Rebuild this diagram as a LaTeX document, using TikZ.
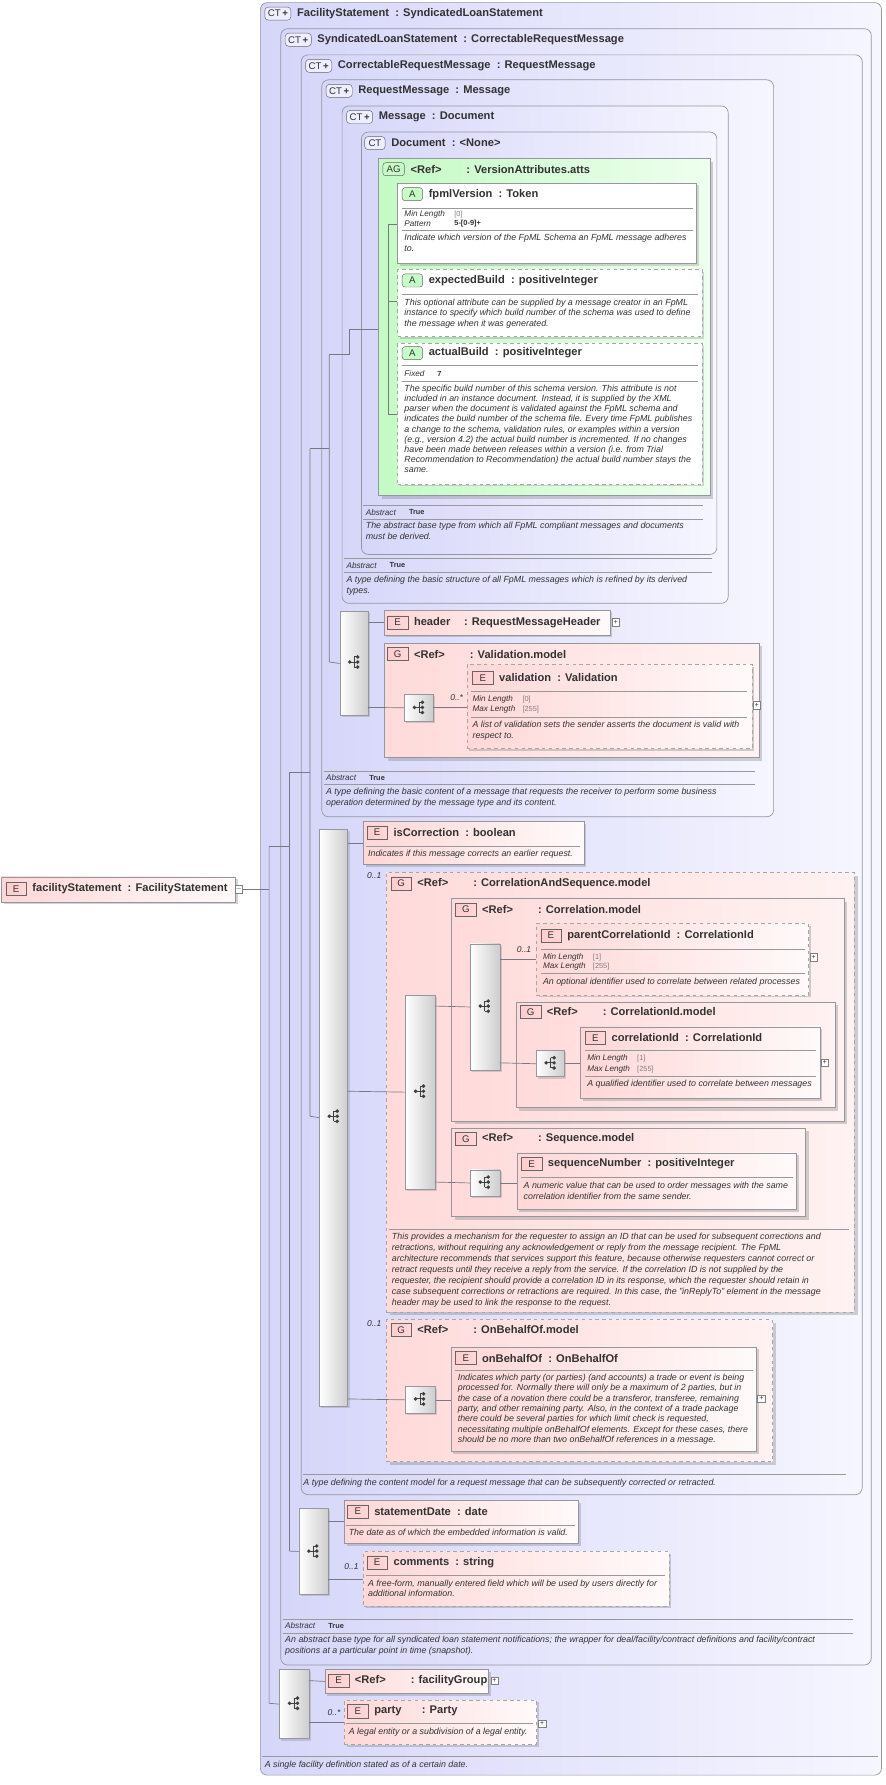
\documentclass[tikz,border=0pt]{standalone}
\usepackage{fontspec}
\setmainfont{Liberation Sans}
\usetikzlibrary{shadows}
\definecolor{txt}{RGB}{50,50,50}
\definecolor{bord}{RGB}{150,150,160}
\definecolor{ctL}{RGB}{214,214,250}
\definecolor{ctR}{RGB}{246,246,255}
\definecolor{eL}{RGB}{255,215,215}
\definecolor{eR}{RGB}{255,250,250}
\definecolor{gL}{RGB}{255,218,218}
\definecolor{gR}{RGB}{255,242,242}
\definecolor{agL}{RGB}{196,250,196}
\definecolor{agR}{RGB}{238,255,238}
\definecolor{seqR}{RGB}{205,205,205}
\definecolor{lin}{RGB}{120,120,130}
\tikzset{
 x=1pt,y=-1pt,
 every node/.style={text=txt},
 bx/.style={draw=bord, anchor=north west, inner sep=0pt, line width=0.6pt},
 ctbox/.style={bx, rounded corners=6pt, left color=ctL, right color=ctR},
 elbox/.style={bx, left color=eL, right color=eR, drop shadow={shadow xshift=2pt,shadow yshift=-2pt,opacity=0.35}},
 optel/.style={elbox, dashed, draw=gray!70},
 grpbox/.style={bx, left color=gL, right color=gR, drop shadow={shadow xshift=3pt,shadow yshift=-3pt,opacity=0.35}},
 optgrp/.style={grpbox, dashed, draw=gray!70},
 agbox/.style={bx, left color=agL, right color=agR, drop shadow={shadow xshift=3pt,shadow yshift=-3pt,opacity=0.35}},
 attbox/.style={bx, left color=white, right color=white, drop shadow={shadow xshift=2pt,shadow yshift=-2pt,opacity=0.3}},
 optatt/.style={attbox, dashed, draw=gray!70},
 seqbox/.style={bx, left color=white, right color=seqR, drop shadow={shadow xshift=1.5pt,shadow yshift=-1.5pt,opacity=0.3}},
 badge/.style={draw=gray!80!black, inner sep=0pt, minimum height=11.5pt, minimum width=18pt, font=\fontsize{8.5}{9}\selectfont, anchor=west},
 bCT/.style={badge, fill=ctL!80!blue!20, rounded corners=3pt, minimum width=23pt},
 bE/.style={badge, left color=eL!60!red!40, right color=eL},
 bA/.style={badge, left color=agL!60!green!40, right color=agL, rounded corners=2.5pt},
 hfont/.style={font=\bfseries\fontsize{9.8}{11}\selectfont},
 sep/.style={draw=gray!80, line width=0.5pt},
 con/.style={draw=lin, line width=0.6pt},
 dsc/.style={anchor=north west, align=left, inner sep=0pt, font=\itshape\fontsize{7.8}{9.4}\selectfont},
 pk/.style={anchor=west, inner sep=0pt, font=\itshape\fontsize{7.2}{8}\selectfont},
 pv/.style={anchor=west, inner sep=0pt, font=\fontsize{6.5}{7}\selectfont},
 pb/.style={anchor=west, inner sep=0pt, font=\bfseries\fontsize{6.5}{7}\selectfont},
 occ/.style={anchor=east, inner sep=0pt, font=\itshape\fontsize{7.5}{8}\selectfont},
 plus/.style={draw=gray, fill=white, minimum size=6.5pt, inner sep=0pt, font=\fontsize{6}{6}\selectfont, anchor=west},
}
\newcommand\bx[6]{\node[#2, minimum width={#5pt-#3pt}, minimum height={#6pt-#4pt}] (#1) at (#3,#4) {};}
\newcommand\hd[5]{\node[#3] (b#1#2) at (#1,#2) {#4}; \node[hfont, anchor=west, inner sep=0pt] (t#1#2) at ([xshift=5pt]b#1#2.east) {#5};}
\newcommand\sepl[3]{\draw[sep] (#1,#3) -- (#2,#3);}
\newcommand\prop[4]{\node[pk] at (#1,#2) {#3}; \node[pv] at (#1+44,#2) {#4};}
\newcommand\seqicon[1]{\begin{scope}[shift={(#1)}]
 \fill[black!75] (-4,0) circle (1.7); \draw[black!75,line width=0.8pt] (-4,0) -- (0,0) (0,-4.5) -- (0,4.5) (0,-4.5)--(3,-4.5) (0,0)--(3,0) (0,4.5)--(3,4.5);
 \fill[black!75] (3,-4.5) circle (1.7) (3,0) circle (1.7) (3,4.5) circle (1.7);\end{scope}}
\newcommand\ctp{CT\,\textbf{+}}
\begin{document}
\begin{tikzpicture}
\useasboundingbox (0,0) rectangle (780,1572);
% complex type boxes
\bx{ct1}{ctbox}{229}{2}{776}{1563}
\hd{233}{12}{bCT}{\ctp}{FacilityStatement\ \ : SyndicatedLoanStatement}
\bx{ct2}{ctbox}{247}{25}{767}{1466}
\hd{251}{35}{bCT}{\ctp}{SyndicatedLoanStatement\ \ : CorrectableRequestMessage}
\bx{ct3}{ctbox}{265}{48}{759}{1316}
\hd{269}{58}{bCT}{\ctp}{CorrectableRequestMessage\ \ : RequestMessage}
\bx{ct4}{ctbox}{283}{70}{681}{719}
\hd{287}{80}{bCT}{\ctp}{RequestMessage\ \ : Message}
\bx{ct5}{ctbox}{301}{93}{641}{531}
\hd{305}{103}{bCT}{\ctp}{Message\ \ : Document}
\bx{ct6}{ctbox}{318}{116}{631}{488}
\hd{321}{126}{badge,fill=ctL!80!blue!20,rounded corners=3pt,minimum width=18pt}{CT}{Document\ \ : <None>}
% attribute group
\bx{ag}{agbox}{333}{139}{625}{436}
\hd{337}{149}{bA,minimum width=19pt}{AG}{<Ref>\hspace{22pt}: VersionAttributes.atts}
\bx{a1}{attbox}{350}{161}{613}{232}
\hd{354}{171}{bA}{A}{fpmlVersion\ \ : Token}
\sepl{354}{610}{183}
\prop{356}{189}{Min Length}{\textcolor{gray}{[0]}}
\node[pk] at (356,197) {Pattern}; \node[pb] at (400,197) {5-[0-9]+};
\sepl{354}{610}{203}
\node[dsc] at (356,206) {Indicate which version of the FpML Schema an FpML message adheres\\to.};
\bx{a2}{optatt}{350}{237}{618}{296}
\hd{354}{247}{bA}{A}{expectedBuild\ \ : positiveInteger}
\sepl{354}{615}{259}
\node[dsc] at (356,263) {This optional attribute can be supplied by a message creator in an FpML\\instance to specify which build number of the schema was used to define\\the message when it was generated.};
\bx{a3}{optatt}{350}{302}{618}{426}
\hd{354}{311}{bA}{A}{actualBuild\ \ : positiveInteger}
\sepl{354}{615}{322}
\node[pk] at (356,329) {Fixed}; \node[pb] at (385,329) {7};
\sepl{354}{615}{336}
\node[dsc,font=\itshape\fontsize{7.8}{8.9}\selectfont] at (356,339) {The specific build number of this schema version. This attribute is not\\included in an instance document. Instead, it is supplied by the XML\\parser when the document is validated against the FpML schema and\\indicates the build number of the schema file. Every time FpML publishes\\a change to the schema, validation rules, or examples within a version\\(e.g., version 4.2) the actual build number is incremented. If no changes\\have been made between releases within a version (i.e. from Trial\\Recommendation to Recommendation) the actual build number stays the\\same.};
% Document footer
\sepl{320}{619}{445}
\node[pk] at (322,451) {Abstract}; \node[pb] at (360,451) {True};
\sepl{320}{619}{457}
\node[dsc] at (322,460) {The abstract base type from which all FpML compliant messages and documents\\must be derived.};
% Message footer
\sepl{303}{627}{492}
\node[pk] at (305,498) {Abstract}; \node[pb] at (343,498) {True};
\sepl{303}{627}{504}
\node[dsc] at (305,507) {A type defining the basic structure of all FpML messages which is refined by its derived\\types.};
% RequestMessage content
\bx{sq1}{seqbox}{299}{538}{324}{630}
\seqicon{312,583}
\bx{hdr}{elbox}{338}{537}{537}{559}
\hd{341}{548}{bE}{E}{header\hspace{12pt}: RequestMessageHeader}
\node[plus] (p1) at (539,548) {+};
\bx{gv}{grpbox}{338}{566}{668}{667}
\hd{341}{576}{bE}{G}{<Ref>\hspace{22pt}: Validation.model}
\bx{sq2}{seqbox}{356}{611}{381}{635}
\seqicon{369,623}
\bx{val}{optel}{411}{585}{662}{659}
\hd{416}{597}{bE}{E}{validation\ \ : Validation}
\sepl{415}{658}{609}
\prop{416}{616}{Min Length}{\textcolor{gray}{[0]}}
\prop{416}{625}{Max Length}{\textcolor{gray}{[255]}}
\sepl{415}{658}{632}
\node[dsc] at (416,635) {A list of validation sets the sender asserts the document is valid with\\respect to.};
\node[plus] (p2) at (663,621) {+};
\node[occ] at (408,614) {0..*};
\draw[con] (sq1.east |- hdr.west) -- (hdr.west);
\draw[con] (324,623) -- (sq2.west);
\draw[con] (sq2.east) -- (val.west |- sq2.east);
% RequestMessage footer
\sepl{285}{665}{679}
\node[pk] at (287,685) {Abstract}; \node[pb] at (325,685) {True};
\sepl{285}{665}{691}
\node[dsc] at (287,694) {A type defining the basic content of a message that requests the receiver to perform some business\\operation determined by the message type and its content.};
% CorrectableRequestMessage content
\bx{sq3}{seqbox}{281}{730}{306}{1238}
\seqicon{294,983}
\bx{isc}{elbox}{320}{723}{514}{761}
\hd{323}{733}{bE}{E}{isCorrection\ \ : boolean}
\sepl{322}{511}{745}
\node[dsc] at (324,748) {Indicates if this message corrects an earlier request.};
\bx{gcs}{optgrp}{340}{768}{752}{1155}
\node[occ] at (336,771) {0..1};
\hd{344}{778}{bE}{G}{<Ref>\hspace{22pt}: CorrelationAndSequence.model}
\bx{sq4}{seqbox}{357}{876}{383}{1047}
\seqicon{370,961}
\bx{gc}{grpbox}{397}{791}{743}{987}
\hd{401}{801}{bE}{G}{<Ref>\hspace{22pt}: Correlation.model}
\bx{sq5}{seqbox}{414}{831}{440}{942}
\seqicon{427,886}
\bx{pci}{optel}{472}{813}{712}{876}
\hd{476}{824}{bE}{E}{parentCorrelationId\ \ : CorrelationId}
\sepl{476}{709}{836}
\prop{478}{843}{Min Length}{\textcolor{gray}{[1]}}
\prop{478}{851}{Max Length}{\textcolor{gray}{[255]}}
\sepl{476}{709}{857}
\node[dsc] at (478,861) {An optional identifier used to correlate between related processes};
\node[plus] (p3) at (713,843) {+};
\node[occ] at (468,836) {0..1};
\bx{gci}{grpbox}{454}{882}{735}{975}
\hd{458}{891}{bE}{G}{<Ref>\hspace{22pt}: CorrelationId.model}
\bx{sq6}{seqbox}{472}{925}{497}{948}
\seqicon{485,936}
\bx{cid}{elbox}{511}{904}{722}{967}
\hd{515}{914}{bE}{E}{correlationId\ \ : CorrelationId}
\sepl{515}{719}{925}
\prop{517}{932}{Min Length}{\textcolor{gray}{[1]}}
\prop{517}{942}{Max Length}{\textcolor{gray}{[255]}}
\sepl{515}{719}{948}
\node[dsc] at (517,951) {A qualified identifier used to correlate between messages};
\node[plus] (p4) at (723,936) {+};
\bx{gs}{grpbox}{397}{993}{709}{1071}
\hd{401}{1003}{bE}{G}{<Ref>\hspace{22pt}: Sequence.model}
\bx{sq7}{seqbox}{414}{1030}{440}{1053}
\seqicon{427,1041}
\bx{sn}{elbox}{455}{1015}{701}{1065}
\hd{459}{1025}{bE}{E}{sequenceNumber\ \ : positiveInteger}
\sepl{459}{698}{1037}
\node[dsc] at (461,1041) {A numeric value that can be used to order messages with the same\\correlation identifier from the same sender.};
\sepl{343}{748}{1083}
\node[dsc,font=\itshape\fontsize{7.8}{9.7}\selectfont] at (345,1086) {This provides a mechanism for the requester to assign an ID that can be used for subsequent corrections and\\retractions, without requiring any acknowledgement or reply from the message recipient. The FpML\\architecture recommends that services support this feature, because otherwise requesters cannot correct or\\retract requests until they receive a reply from the service. If the correlation ID is not supplied by the\\requester, the recipient should provide a correlation ID in its response, which the requester should retain in\\case subsequent corrections or retractions are required. In this case, the "inReplyTo" element in the message\\header may be used to link the response to the request.};
\bx{gob}{optgrp}{340}{1162}{680}{1287}
\node[occ] at (336,1166) {0..1};
\hd{344}{1171}{bE}{G}{<Ref>\hspace{22pt}: OnBehalfOf.model}
\bx{sq8}{seqbox}{357}{1221}{383}{1244}
\seqicon{370,1232}
\bx{ob}{elbox}{397}{1186}{666}{1278}
\hd{401}{1196}{bE}{E}{onBehalfOf\ \ : OnBehalfOf}
\sepl{401}{663}{1207}
\node[dsc,font=\itshape\fontsize{7.8}{9.1}\selectfont] at (403,1210) {Indicates which party (or parties) (and accounts) a trade or event is being\\processed for. Normally there will only be a maximum of 2 parties, but in\\the case of a novation there could be a transferor, transferee, remaining\\party, and other remaining party. Also, in the context of a trade package\\there could be several parties for which limit check is requested,\\necessitating multiple onBehalfOf elements. Except for these cases, there\\should be no more than two onBehalfOf references in a message.};
\node[plus] (p5) at (667,1232) {+};
% connectors inside
\draw[con] (sq3.east |- isc.west) -- (isc.west);
\draw[con] (306,961) -- (sq4.west);
\draw[con] (306,1232) -- (sq8.west);
\draw[con] (383,886) -- (sq5.west);
\draw[con] (383,1041) -- (sq7.west);
\draw[con] (440,845) -- (pci.west |- 0,845);
\draw[con] (440,936) -- (sq6.west);
\draw[con] (sq6.east) -- (cid.west |- sq6.east);
\draw[con] (sq7.east) -- (sn.west |- sq7.east);
\draw[con] (sq8.east) -- (ob.west |- sq8.east);
\sepl{267}{745}{1298}
\node[dsc] at (267,1302) {A type defining the content model for a request message that can be subsequently corrected or retracted.};
% SyndicatedLoanStatement content
\bx{sq9}{seqbox}{263}{1328}{289}{1404}
\seqicon{276,1366}
\bx{sd}{elbox}{303}{1321}{509}{1359}
\hd{306}{1331}{bE}{E}{statementDate\ \ : date}
\sepl{305}{506}{1343}
\node[dsc] at (307,1346) {The date as of which the embedded information is valid.};
\bx{cm}{optel}{320}{1366}{589}{1414}
\node[occ] at (316,1380) {0..1};
\hd{323}{1376}{bE}{E}{comments\ \ : string}
\sepl{322}{586}{1387}
\node[dsc] at (324,1391) {A free-form, manually entered field which will be used by users directly for\\additional information.};
\draw[con] (289,1340) -- (sd.west |- 0,1340);
\draw[con] (289,1391) -- (cm.west |- 0,1391);
\sepl{249}{751}{1426}
\node[pk] at (251,1432) {Abstract}; \node[pb] at (289,1432) {True};
\sepl{249}{751}{1438}
\node[dsc] at (251,1441) {An abstract base type for all syndicated loan statement notifications; the wrapper for deal/facility/contract definitions and facility/contract\\positions at a particular point in time (snapshot).};
% FacilityStatement content
\bx{sq10}{seqbox}{246}{1470}{272}{1531}
\seqicon{259,1500}
\bx{fg}{elbox}{286}{1470}{430}{1491}
\hd{289}{1480}{bE}{E}{<Ref>\hspace{22pt}: facilityGroup}
\node[plus] (p6) at (432,1480) {+};
\bx{pt}{optel}{303}{1497}{472}{1536}
\node[occ] at (300,1508) {0..*};
\hd{306}{1507}{bE}{E}{party\hspace{18pt}: Party}
\sepl{305}{469}{1518}
\node[dsc] at (307,1522) {A legal entity or a subdivision of a legal entity.};
\node[plus] (p7) at (474,1518) {+};
\draw[con] (272,1480) -- (fg.west);
\draw[con] (272,1517) -- (pt.west |- 0,1517);
\sepl{231}{773}{1547}
\node[dsc] at (233,1551) {A single facility definition stated as of a certain date.};
% root element
\bx{root}{elbox}{1}{772}{207}{794}
\hd{5}{783}{bE}{E}{facilityStatement\ \ : FacilityStatement}
\node[plus] (p0) at (207,783) {$-$};
% inheritance tree lines
\draw[con] (p0.east) -- (237,783);
\draw[con] (237,745) -- (237,1500) -- (sq10.west);
\draw[con] (237,745) -- (255,745);
\draw[con] (255,680) -- (255,1366) -- (sq9.west);
\draw[con] (255,680) -- (273,680);
\draw[con] (273,395) -- (273,983) -- (sq3.west);
\draw[con] (273,395) -- (290,395);
\draw[con] (290,312) -- (290,583) -- (sq1.west);
\draw[con] (290,312) -- (308,312);
\draw[con] (308,290) -- (308,312);
\draw[con] (308,290) -- (316,290) -- (ag.west |- 0,290);
\draw[con] (342,198) -- (342,365);
\draw[con] (342,198) -- (a1.west |- 0,198);
\draw[con] (342,265) -- (a2.west |- 0,265);
\draw[con] (342,365) -- (a3.west |- 0,365);
\end{tikzpicture}
\end{document}
